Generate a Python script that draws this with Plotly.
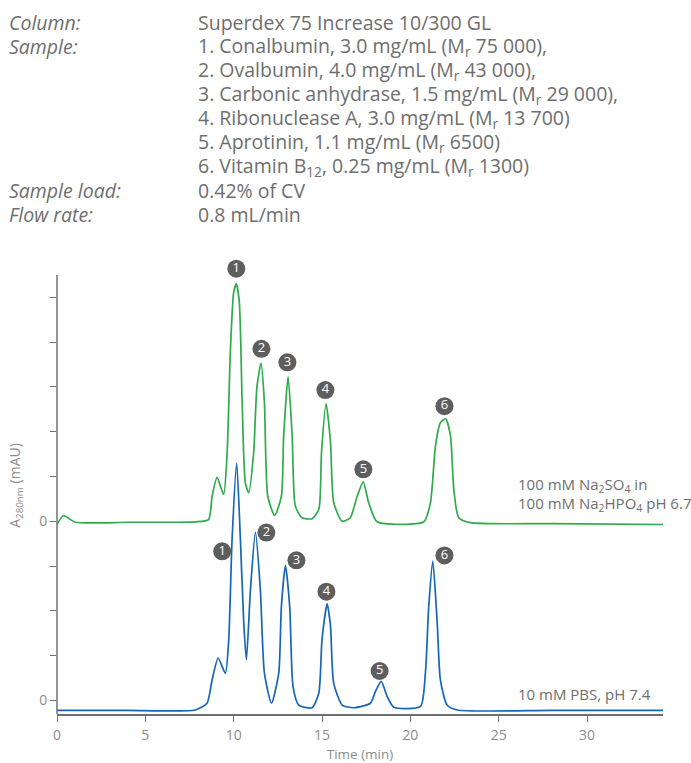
import plotly.graph_objects as go

# ---------------- data ----------------
# Blue trace: 10 mM PBS, pH 7.4  (time in min, signal in tick units)
blue_t = [0, 4, 7.83, 8.49, 8.78, 9.12, 9.53, 9.72, 9.91, 10.17, 10.38, 10.57, 10.72,
          10.95, 11.23, 11.51, 11.74, 12.14, 12.55, 12.7, 12.93, 13.17, 13.36, 13.68,
          14.44, 14.82, 15.0, 15.29, 15.48, 15.66, 16.14, 16.8, 17.74, 18.02, 18.35,
          18.69, 19.06, 20.57, 20.85, 21.04, 21.27, 21.52, 21.7, 22.08, 22.65, 28, 34.3]
blue_y = [-0.22, -0.22, -0.21, -0.06, 0.46, 0.95, 0.61, 1.36, 3.6, 5.30, 3.6, 1.73, 0.91,
          2.48, 3.76, 2.48, 0.61, -0.06, 0.61, 2.1, 3.02, 2.1, 0.31, -0.10,
          -0.16, 0.17, 1.36, 2.16, 1.66, 0.39, -0.10, -0.16, -0.06, 0.2, 0.43,
          0.09, -0.15, -0.13, 0.61, 2.1, 3.11, 1.73, 0.46, -0.10, -0.21, -0.22, -0.22]

# Green trace: 100 mM Na2SO4 in 100 mM Na2HPO4 pH 6.7 (relative to its own zero)
green_t = [0, 0.37, 1.04, 4, 7.83, 8.58, 8.78, 9.06, 9.43, 9.63, 9.81, 10.0, 10.15, 10.32,
           10.48, 10.66, 10.85, 11.13, 11.32, 11.55, 11.74, 11.93, 12.32, 12.7, 12.83,
           13.08, 13.31, 13.49, 13.87, 14.44, 14.82, 14.97, 15.23, 15.48, 15.66, 16.14,
           16.6, 16.99, 17.33, 17.64, 18.12, 20.76, 21.14, 21.42, 21.7, 22.0, 22.27,
           22.46, 22.74, 23.4, 28, 34.3]
green_y = [-0.07, 0.13, -0.02, -0.02, -0.01, 0.04, 0.56, 0.98, 0.6, 1.53, 3.77, 5.11, 5.30, 4.89,
           2.65, 0.86, 0.64, 1.53, 3.02, 3.53, 2.65, 0.56, 0.13, 0.56, 1.91,
           3.23, 1.91, 0.34, 0.08, 0.06, 0.27, 1.53, 2.63, 1.76, 0.42, 0.0,
           0.08, 0.56, 0.88, 0.42, -0.01, -0.01, 0.42, 1.68, 2.2, 2.29, 1.91,
           0.71, 0.08, -0.03, -0.05, -0.07]
GREEN_OFFSET = 4

peak_labels = ["1", "2", "3", "4", "5", "6"]
green_lab_t = [10.15, 11.57, 13.04, 15.19, 17.34, 21.93]
green_lab_y = [9.64, 7.85, 7.55, 6.93, 5.16, 6.57]
blue_lab_t = [9.35, 11.85, 13.55, 15.25, 18.26, 21.93]
blue_lab_y = [3.33, 3.75, 3.13, 2.43, 0.66, 3.24]

y_tickvals = [0, 1, 2, 3, 4, 5, 6, 7, 8, 9]
y_ticktext = ["0", "", "", "", "0", "", "", "", "", ""]
x_tickvals = [0, 5, 10, 15, 20, 25, 30]

header_labels = ["Column:", "Sample:", "", "", "", "", "", "Sample load:", "Flow rate:"]
header_values = [
    "Superdex 75 Increase 10/300 GL",
    "1. Conalbumin, 3.0 mg/mL (M<sub>r</sub> 75 000),",
    "2. Ovalbumin, 4.0 mg/mL (M<sub>r</sub> 43 000),",
    "3. Carbonic anhydrase, 1.5 mg/mL (M<sub>r</sub> 29 000),",
    "4. Ribonuclease A, 3.0 mg/mL (M<sub>r</sub> 13 700)",
    "5. Aprotinin, 1.1 mg/mL (M<sub>r</sub> 6500)",
    "6. Vitamin B<sub>12</sub>, 0.25 mg/mL (M<sub>r</sub> 1300)",
    "0.42% of CV",
    "0.8 mL/min",
]

# ---------------- figure ----------------
W, H = 691, 763
Y_MIN, Y_AXIS_TOP, Y_MAX = -0.3, 9.5, 9.9
L, R, B = 57, 28, 49
UNIT = (714 - 275) / (Y_AXIS_TOP - Y_MIN)      # px per y unit
T = round(H - B - UNIT * (Y_MAX - Y_MIN))
PW, PH = W - L - R, H - T - B
FONT = "Open Sans"
GREEN = "#2eab4b"
BLUE = "#1566b7"
GRAY_TXT = "#6e6e6e"
AX = "#707070"
TICK_TXT = "#8c8c8c"


def px2paper(px, py):
    return (px - L) / PW, (H - B - py) / PH


fig = go.Figure()
fig.add_trace(go.Scatter(x=blue_t, y=blue_y, mode="lines",
                         line=dict(color=BLUE, width=1.7, shape="spline", smoothing=0.6),
                         hoverinfo="skip", showlegend=False))
fig.add_trace(go.Scatter(x=green_t, y=[v + GREEN_OFFSET for v in green_y], mode="lines",
                         line=dict(color=GREEN, width=1.7, shape="spline", smoothing=0.6),
                         hoverinfo="skip", showlegend=False))
for tt, yy in ((green_lab_t, green_lab_y), (blue_lab_t, blue_lab_y)):
    fig.add_trace(go.Scatter(x=tt, y=yy, mode="markers+text", text=peak_labels,
                             textposition="middle center",
                             textfont=dict(color="white", size=13, family=FONT),
                             marker=dict(size=18, color="#5e5e5e"),
                             cliponaxis=False, hoverinfo="skip", showlegend=False))

annotations = []
for i, (lab, val) in enumerate(zip(header_labels, header_values)):
    py = 23 + 23.9 * i
    _, yp = px2paper(0, py)
    if lab:
        xp, _ = px2paper(7, py)
        annotations.append(dict(x=xp, y=yp, xref="paper", yref="paper", text="<i>" + lab + "</i>",
                                showarrow=False, xanchor="left", yanchor="middle",
                                font=dict(family=FONT, size=19.5, color=GRAY_TXT)))
    xp, _ = px2paper(196, py)
    annotations.append(dict(x=xp, y=yp, xref="paper", yref="paper", text=val,
                            showarrow=False, xanchor="left", yanchor="middle",
                            font=dict(family=FONT, size=19.5, color=GRAY_TXT)))

for txt, py in (("100 mM Na<sub>2</sub>SO<sub>4</sub> in", 484.5),
                ("100 mM Na<sub>2</sub>HPO<sub>4</sub> pH 6.7", 503.5),
                ("10 mM PBS, pH 7.4", 693.5)):
    xp, yp = px2paper(516, py)
    annotations.append(dict(x=xp, y=yp, xref="paper", yref="paper", text=txt,
                            showarrow=False, xanchor="left", yanchor="middle",
                            font=dict(family=FONT, size=15, color=GRAY_TXT)))

# y axis line (only up to the top tick region, labels may sit above it)
shapes = [dict(type="line", xref="paper", yref="y", x0=0, x1=0, y0=Y_MIN, y1=Y_AXIS_TOP,
               line=dict(color=AX, width=1.5))]

fig.update_layout(
    width=W, height=H, margin=dict(l=L, r=R, t=T, b=B),
    paper_bgcolor="white", plot_bgcolor="white",
    annotations=annotations, shapes=shapes,
    xaxis=dict(range=[0, 34.3], tickvals=x_tickvals, showgrid=False, zeroline=False,
               showline=True, linecolor=AX, linewidth=1.5, automargin=False,
               ticks="outside", ticklen=6, tickcolor=AX, tickwidth=1,
               ticklabelstandoff=1,
               tickfont=dict(family=FONT, size=14, color=TICK_TXT),
               title=dict(text="Time (min)", font=dict(family=FONT, size=13.5, color=TICK_TXT), standoff=8)),
    yaxis=dict(range=[Y_MIN, Y_MAX], tickvals=y_tickvals, ticktext=y_ticktext, showgrid=False,
               zeroline=False, showline=False, automargin=False,
               ticks="outside", ticklen=6, tickcolor=AX, tickwidth=1,
               tickfont=dict(family=FONT, size=14, color=TICK_TXT),
               title=dict(text="A<sub>280nm</sub> (mAU)", font=dict(family=FONT, size=14, color=TICK_TXT), standoff=15)),
)

fig.write_html("out.html")
